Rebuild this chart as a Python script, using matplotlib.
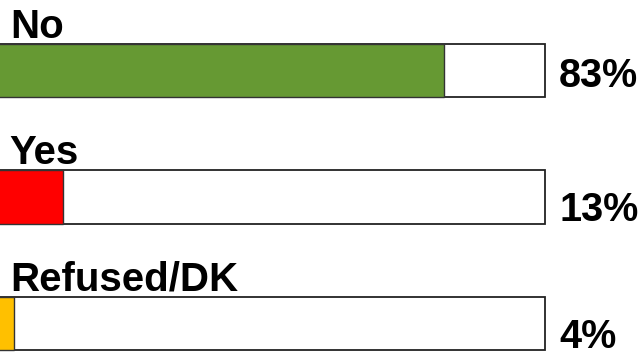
import matplotlib.pyplot as plt

categories = ["No", "Yes", "Refused/DK"]
values = [83, 13, 4]
labels = ["83%", "13%", "4%"]
colors = ["#669933", "#FF0000", "#FFC000"]
frame_max = 101.6

# how far each percent label sits above the bottom of its bar (axis units)
label_lift = [0.079, 0.022, 0.02]


def main():
    plt.rcParams['font.family'] = ['Liberation Sans', 'DejaVu Sans']
    fig = plt.figure(figsize=(6.44, 3.54), dpi=100)
    ax = fig.add_axes([0, 0, 1, 1])

    pos = range(len(categories))
    h = 0.42
    # white frame behind each bar
    ax.barh(pos, [frame_max] * len(values), height=h, color="white",
            edgecolor="#222222", linewidth=1.3)
    ax.barh(pos, values, height=h, color=colors,
            edgecolor="#333333", linewidth=1.0)

    for i, (cat, lab) in enumerate(zip(categories, labels)):
        ax.text(3.2, i - h / 2 - 0.05, cat, fontsize=29, fontweight="bold",
                va="baseline", ha="left")
        ax.text(104.2, i + h / 2 - label_lift[i], lab, fontsize=28.5,
                fontweight="bold", va="baseline", ha="left")

    ax.set_xlim(1.4, 119.8)
    ax.set_ylim(2.241, -0.557)
    ax.axis("off")
    fig.savefig("out.png", dpi=100)


if __name__ == "__main__":
    main()
